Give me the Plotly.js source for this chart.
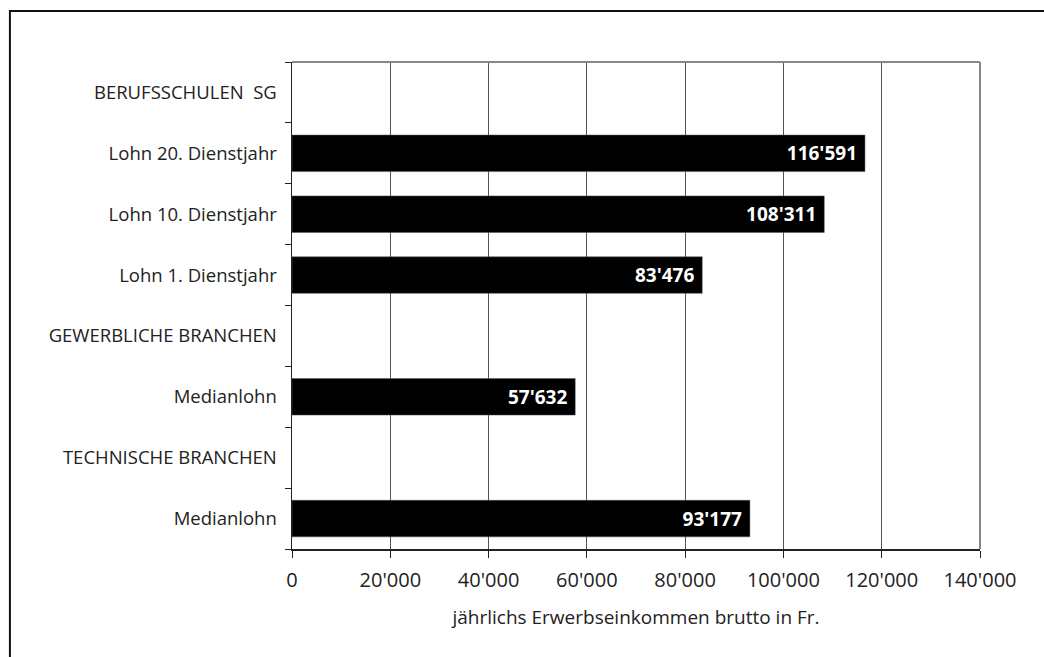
<!DOCTYPE html>
<html>
<head>
<meta charset="utf-8">
<script src="https://cdn.plot.ly/plotly-3.0.1.min.js"></script>
<style>html,body{margin:0;padding:0;background:#fff;}#chart{width:1044px;height:657px;}</style>
</head>
<body>
<div id="chart"></div>
<script>
const categoryIds = ["c1", "c2", "c3", "c4", "c5", "c6", "c7", "c8"];
const categoryLabels = [
  "BERUFSSCHULEN\u00a0 SG",
  "Lohn 20. Dienstjahr",
  "Lohn 10. Dienstjahr",
  "Lohn 1. Dienstjahr",
  "GEWERBLICHE BRANCHEN",
  "Medianlohn",
  "TECHNISCHE BRANCHEN",
  "Medianlohn"
];
const values = [null, 116591, 108311, 83476, null, 57632, null, 93177];
const xTickVals = [0, 20000, 40000, 60000, 80000, 100000, 120000, 140000];
const xTitle = "jährlichs Erwerbseinkommen brutto in Fr.";

const FONT = "Open Sans, Noto Sans, sans-serif";

const trace = {
  type: "bar",
  orientation: "h",
  y: categoryIds,
  x: values,
  marker: {color: "#000000", line: {color: "#555555", width: 0.5}},
  texttemplate: "%{x:,.0f}\u00a0",
  textposition: "inside",
  insidetextanchor: "end",
  textfont: {family: FONT, size: 19, color: "#ffffff", weight: "bold"},
  hoverinfo: "skip",
  cliponaxis: false
};

const layout = {
  width: 1044,
  height: 657,
  margin: {l: 292, r: 64, t: 62, b: 108, pad: 0},
  paper_bgcolor: "#ffffff",
  plot_bgcolor: "#ffffff",
  separators: ".'",
  showlegend: false,
  bargap: 0.4,
  font: {family: FONT, size: 18, color: "#222222"},
  xaxis: {
    range: [0, 140000],
    tickmode: "array",
    tickvals: xTickVals,
    tickformat: ",.0f",
    showgrid: true,
    gridcolor: "#555555",
    gridwidth: 1,
    zeroline: false,
    showline: true,
    linecolor: "#222222",
    linewidth: 1.5,
    ticks: "outside",
    ticklen: 7,
    tickcolor: "#222222",
    ticklabelstandoff: 5,
    tickfont: {family: FONT, size: 20, color: "#222222"},
    title: {text: xTitle, font: {family: FONT, size: 19, color: "#222222"}, standoff: 19},
    fixedrange: true
  },
  yaxis: {
    type: "category",
    categoryorder: "array",
    categoryarray: categoryIds,
    tickmode: "array",
    tickvals: categoryIds,
    ticktext: categoryLabels,
    autorange: "reversed",
    tickson: "boundaries",
    ticks: "outside",
    ticklen: 6,
    tickcolor: "#222222",
    showline: true,
    linecolor: "#222222",
    linewidth: 1.5,
    showgrid: false,
    ticklabelstandoff: 10,
    tickfont: {family: FONT, size: 18.5, color: "#222222"},
    fixedrange: true
  },
  shapes: [
    {type: "line", xref: "paper", yref: "paper", x0: 0, x1: 1, y0: 1, y1: 1, line: {color: "#888888", width: 2}},
    {type: "line", xref: "paper", yref: "paper", x0: 1, x1: 1, y0: 0, y1: 1, line: {color: "#888888", width: 2}},
    {type: "rect", xref: "paper", yref: "paper", x0: -0.41, x1: 1.2, y0: -0.4, y1: 1.1047, line: {color: "#111111", width: 2}, fillcolor: "rgba(0,0,0,0)", layer: "below"}
  ]
};

Plotly.newPlot("chart", [trace], layout, {displayModeBar: false, staticPlot: true});
</script>
</body>
</html>
